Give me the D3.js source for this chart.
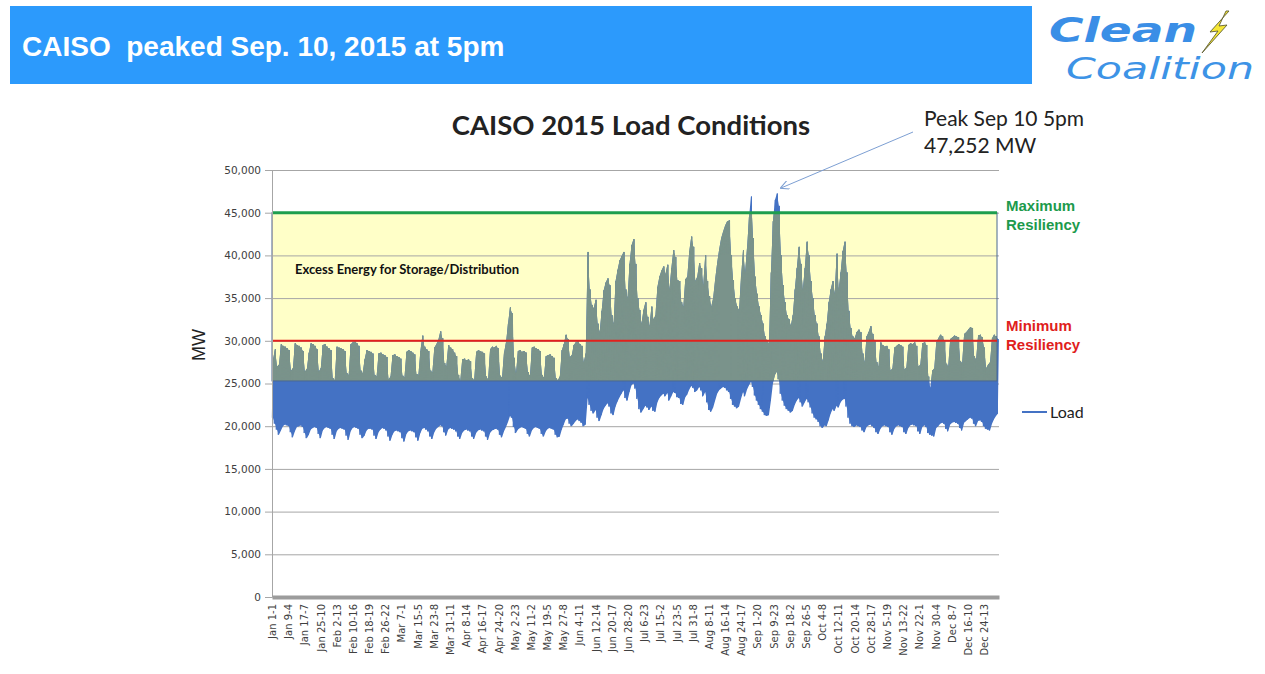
<!DOCTYPE html>
<html>
<head>
<meta charset="utf-8">
<script src="https://cdn.jsdelivr.net/npm/d3@7"></script>
<style>
  body { margin: 0; background: #fff; }
  svg { display: block; }
</style>
</head>
<body>
<script>
const [svgWidth, svgHeight] = [1265, 674];

// daily peak load, MW (Jan 1 .. Dec 31, 2015)
const dailyMax = [
  // Jan
  27800, 29000, 27000, 27200, 29600, 29400, 29300, 29100, 28900, 26500, 26800, 29700, 29500, 29400, 29200, 28800,
  26400, 26700, 28600, 29700, 29600, 29400, 29000, 26400, 26800, 29500, 29600, 29300, 29100, 28900, 25600,
  // Feb
  25400, 29300, 29200, 29100, 29000, 28800, 26200, 26000, 29600, 29800, 30000, 29700, 29400, 26500,
  26200, 27800, 28900, 28800, 28700, 28500, 26000, 25800, 28500, 28600, 28400, 28300, 28100, 25500,
  // Mar
  25800, 28300, 28400, 28200, 28100, 27900, 25900, 25700, 28700, 28900, 28800, 28600, 28400, 26100, 26000, 28800,
  30600, 29300, 29000, 28800, 26500, 26300, 29200, 29600, 30100, 31100, 30300, 27400, 27000, 29500, 29200,
  // Apr
  29000, 28600, 28200, 26000, 25300, 27800, 27900, 27700, 27800, 27600, 25600, 25400, 28700, 28900, 28800,
  28700, 28500, 25800, 25500, 29000, 29300, 29200, 29400, 29100, 25900, 25700, 28600, 29800, 32000, 33900,
  // May
  33200, 28000, 26200, 28800, 28900, 28700, 28800, 28600, 26300, 25900, 29200, 29300, 29100, 29000, 28800, 26000,
  25700, 28200, 28300, 28400, 28200, 28000, 25600, 25400, 25800, 28900, 29600, 30700, 30200, 28100, 28300,
  // Jun
  29500, 29800, 30000, 29600, 29400, 27500, 28500, 40400, 36000, 34200, 33800, 34800, 32000, 31000, 33500,
  35900, 36800, 37300, 36500, 33000, 32000, 37000, 38300, 39400, 39900, 40400, 36000, 35000, 39000, 41200,
  // Jul
  41900, 39000, 35000, 33600, 32000, 33600, 34500, 32800, 31700, 34000, 32500, 33000, 36300, 37500, 38200, 38700,
  37800, 38900, 36000, 38500, 40600, 39800, 37100, 37000, 34500, 34000, 37200, 37500, 40500, 42200, 41000,
  // Aug
  37000, 37500, 39100, 38500, 36500, 40000, 37000, 35200, 34000, 35000, 37200, 39100, 40700, 42000, 42800, 43500,
  44000, 44100, 40000, 37100, 35000, 34000, 33600, 37500, 40600, 38000, 40800, 44500, 46900, 42000, 37500,
  // Sep
  35500, 34000, 33000, 32000, 30500, 30000, 29700, 38000, 44000, 46500, 47252, 45800, 40000, 36500, 34500,
  33000, 32500, 31800, 33000, 36000, 38500, 41000, 39000, 36000, 38500, 41600, 40000, 37000, 35000, 33000,
  // Oct
  32000, 30500, 28500, 27600, 30500, 32000, 34500, 36000, 37000, 35500, 40200, 36000, 38000, 40500, 41600, 38000,
  33500, 31500, 30500, 30300, 31000, 31300, 31000, 28500, 27500, 30500, 31000, 31700, 30800, 30000, 27500,
  // Nov
  27000, 29800, 29500, 29300, 29400, 29000, 26500, 26800, 29200, 29400, 29600, 29500, 29300, 26600, 26900,
  29500, 29700, 29600, 29800, 29400, 27000, 27200, 29700, 29800, 29500, 25800, 24500, 26500, 26800, 29800,
  // Dec
  30300, 30700, 30500, 30000, 27300, 27000, 30200, 30400, 30600, 30500, 30400, 27600, 27400, 30800, 31000, 31300,
  31600, 31500, 28200, 27800, 30600, 30700, 30400, 29200, 26800, 27200, 27500, 30300, 30700, 30500, 30200
];

// daily minimum load, MW
const dailyMin = [
  // Jan
  21000, 20300, 19600, 19000, 19500, 20000, 20200, 20100, 20000, 19300, 18700, 19400, 19900, 20000, 20100, 19900,
  19200, 18600, 19000, 19600, 19800, 19900, 19800, 19100, 18600, 19500, 19800, 19900, 19800, 19700, 19000,
  // Feb
  18500, 19400, 19700, 19800, 19700, 19600, 18900, 18400, 19400, 19800, 19900, 19800, 19700, 19000,
  18600, 18900, 19500, 19700, 19700, 19600, 18900, 18500, 19300, 19600, 19800, 19700, 19500, 18800,
  // Mar
  18300, 19000, 19400, 19500, 19400, 19300, 18600, 18200, 19100, 19400, 19500, 19400, 19300, 18700, 18300, 19200,
  19700, 19800, 19600, 19400, 18800, 18500, 19300, 19700, 19900, 20100, 20000, 19300, 18900, 19600, 19800,
  // Apr
  19700, 19600, 19400, 18800, 18500, 19200, 19500, 19600, 19500, 19400, 18800, 18500, 19200, 19500, 19600,
  19500, 19400, 18800, 18400, 19200, 19500, 19600, 19700, 19600, 19000, 18700, 19400, 19900, 20500, 21200,
  // May
  21000, 19900, 19200, 19600, 19800, 19900, 19800, 19700, 19100, 18800, 19500, 19800, 19900, 19800, 19700, 19100,
  18800, 19400, 19700, 19800, 19700, 19600, 19000, 18700, 18800, 19600, 20200, 20800, 20900, 20300, 20000,
  // Jun
  20300, 20600, 20800, 20600, 20400, 20000, 20200, 23300, 22500, 21800, 21500, 21900, 21000, 20600, 21300,
  22000, 22400, 22700, 22300, 21500, 21300, 22300, 22900, 23400, 23800, 24200, 23300, 23000, 24000, 24800,
  // Jul
  25000, 24400, 23200, 22000, 21600, 22000, 22400, 22200, 21900, 22300, 21800, 21700, 22800, 23300, 23600, 23800,
  23500, 23900, 23000, 23500, 24000, 23900, 23400, 23300, 22600, 22500, 23400, 23700, 24300, 24700, 24500,
  // Aug
  24000, 24200, 24600, 24200, 23500, 24000, 22800, 21900, 21700, 22200, 23000, 23800, 24200, 24400, 24600, 24500,
  24200, 24000, 23200, 22500, 22300, 22100, 22300, 23200, 24000, 23500, 24300, 24800, 25200, 24600, 23600,
  // Sep
  23000, 22500, 22000, 21700, 21300, 21200, 21300, 23000, 25000, 26000, 26400, 25500, 23800, 23000, 22400,
  22000, 21800, 21600, 21800, 22500, 23000, 23300, 22800, 22300, 22800, 23200, 22800, 22200, 21500, 21000,
  // Oct
  20800, 20500, 20000, 19800, 20100, 20000, 20700, 21500, 22000, 21800, 22400, 22200, 22800, 23100, 23200, 22300,
  21000, 20300, 20000, 19900, 20100, 20000, 19900, 19500, 19300, 19900, 20100, 20200, 20000, 19800, 19300,
  // Nov
  19100, 19700, 20000, 20100, 20000, 19900, 19300, 19000, 19700, 20000, 20100, 20000, 19900, 19300, 19100,
  19800, 20100, 20200, 20100, 20000, 19400, 19100, 19900, 20100, 19900, 19200, 19000, 18900, 18800, 19800,
  // Dec
  20000, 20300, 20400, 20300, 19700, 19400, 20200, 20400, 20500, 20400, 20300, 19800, 19500, 20400, 20600, 20800,
  21000, 20900, 20300, 20000, 20600, 20700, 20500, 20000, 19700, 19600, 19500, 20300, 20800, 21200, 21500
];

// category labels shown on the x axis (one every 195 hourly points)
const xLabels = [
  "Jan 1-1", "Jan 9-4", "Jan 17-7", "Jan 25-10", "Feb 2-13", "Feb 10-16", "Feb 18-19", "Feb 26-22",
  "Mar 7-1", "Mar 15-5", "Mar 23-8", "Mar 31-11", "Apr 8-14", "Apr 16-17", "Apr 24-20", "May 2-23",
  "May 11-2", "May 19-5", "May 27-8", "Jun 4-11", "Jun 12-14", "Jun 20-17", "Jun 28-20", "Jul 6-23",
  "Jul 15-2", "Jul 23-5", "Jul 31-8", "Aug 8-11", "Aug 16-14", "Aug 24-17", "Sep 1-20", "Sep 9-23",
  "Sep 18-2", "Sep 26-5", "Oct 4-8", "Oct 12-11", "Oct 20-14", "Oct 28-17", "Nov 5-19", "Nov 13-22",
  "Nov 22-1", "Nov 30-4", "Dec 8-7", "Dec 16-10", "Dec 24-13"
];
const labelStep = 195;
const hoursInYear = 8760;

const yTicks = [0, 5000, 10000, 15000, 20000, 25000, 30000, 35000, 40000, 45000, 50000];
const maxResiliency = 45000;
const minResiliency = 30000;
const excessFloor = 25300;

const svg = d3.select("body").append("svg")
  .attr("width", svgWidth)
  .attr("height", svgHeight);

// ---- header band + logo
svg.append("rect")
  .attr("x", 10).attr("y", 6).attr("width", 1022).attr("height", 78)
  .attr("fill", "#2c9afc");
svg.append("text")
  .attr("x", 22).attr("y", 56)
  .attr("font-family", "'Liberation Sans', Arial, sans-serif")
  .attr("font-weight", "bold").attr("font-size", 28).attr("fill", "#fff")
  .attr("xml:space", "preserve")
  .text("CAISO  peaked Sep. 10, 2015 at 5pm");

svg.append("text")
  .attr("x", 1049).attr("y", 42)
  .attr("font-family", "'DejaVu Sans', Verdana, sans-serif")
  .attr("font-weight", "bold").attr("font-style", "italic").attr("font-size", 33)
  .attr("textLength", 148).attr("lengthAdjust", "spacingAndGlyphs")
  .attr("fill", "#3a8ee6")
  .text("Clean");
// lightning bolt
svg.append("path")
  .attr("d", "M1229,11 L1210,32 L1218,31 L1202,53 L1227,25 L1219,26 L1226,11 Z")
  .attr("fill", "#f6e735").attr("stroke", "#5f5e34").attr("stroke-width", 0.9)
  .attr("stroke-linejoin", "round");
svg.append("text")
  .attr("x", 1066).attr("y", 79)
  .attr("font-family", "'DejaVu Sans', Verdana, sans-serif")
  .attr("font-style", "italic").attr("font-size", 31)
  .attr("textLength", 188).attr("lengthAdjust", "spacingAndGlyphs")
  .attr("fill", "#3d93e6")
  .text("Coalition");

// ---- scales
const x = d3.scaleLinear().domain([0, hoursInYear]).range([272, 999]);
const y = d3.scaleLinear().domain([0, 50000]).range([597, 170]);

const box = {
  x: 272, y: y(maxResiliency),
  w: 997 - 272, h: y(excessFloor) - y(maxResiliency)
};

// pale yellow excess-energy area sits behind the data
svg.append("rect")
  .attr("x", box.x).attr("y", box.y).attr("width", box.w).attr("height", box.h)
  .attr("fill", "#ffffc8");

// grid
svg.append("g")
  .selectAll("line")
  .data(yTicks.filter(d => d > 0))
  .enter()
  .append("line")
    .attr("x1", 272).attr("x2", 999)
    .attr("y1", d => y(d) + 0.5).attr("y2", d => y(d) + 0.5)
    .attr("stroke", "#a6a6a6").attr("stroke-width", 1);

// load band: each day spans its min (early morning) to its peak (late afternoon)
const days = dailyMax.map((mx, i) => ({ day: i, max: mx, min: dailyMin[i] }));
const band = d3.area()
  .x(d => x(d.day * 24 + 12))
  .y0(d => y(d.min))
  .y1(d => y(d.max));
const zig = [];
days.forEach(d => {
  zig.push({ h: d.day * 24 + 4, v: d.min });
  zig.push({ h: d.day * 24 + 17, v: d.max });
});
const zigLine = d3.line().x(d => x(d.h)).y(d => y(d.v));

svg.append("defs").append("clipPath")
  .attr("id", "boxClip")
  .append("rect")
    .attr("x", box.x).attr("y", box.y).attr("width", box.w).attr("height", box.h);

// draw the load twice: blue everywhere, grey-green where it falls inside the box
[["#4472c4", null], ["#7a938b", "url(#boxClip)"]].forEach(([color, clip]) => {
  const g = svg.append("g").attr("clip-path", clip);
  g.append("path")
    .datum(days)
    .attr("d", band)
    .attr("fill", color);
  g.append("path")
    .datum(zig)
    .attr("d", zigLine)
    .attr("fill", "none")
    .attr("stroke", color)
    .attr("stroke-width", 1);
});

svg.append("rect")
  .attr("x", box.x).attr("y", box.y).attr("width", box.w).attr("height", box.h)
  .attr("fill", "none")
  .attr("stroke", "#4a6890").attr("stroke-width", 1);

svg.append("line")
  .attr("x1", 272).attr("x2", 997)
  .attr("y1", y(maxResiliency)).attr("y2", y(maxResiliency))
  .attr("stroke", "#1e9e4e").attr("stroke-width", 3);
svg.append("line")
  .attr("x1", 272).attr("x2", 997)
  .attr("y1", y(minResiliency)).attr("y2", y(minResiliency))
  .attr("stroke", "#e3211c").attr("stroke-width", 2);

// axes
const yAxis = svg.append("g")
  .attr("transform", "translate(272,0)")
  .call(d3.axisLeft(y).tickValues(yTicks).tickFormat(d3.format(",")).tickSize(7).tickPadding(4));
yAxis.select(".domain").attr("stroke", "#a6a6a6");
yAxis.selectAll(".tick line").attr("stroke", "#a6a6a6");
yAxis.selectAll("text")
  .attr("font-family", "'DejaVu Sans', Verdana, sans-serif")
  .attr("font-size", 10.5).attr("fill", "#404040");

const xAxis = svg.append("g")
  .attr("transform", "translate(0,597)")
  .call(d3.axisBottom(x)
    .tickValues(xLabels.map((_, i) => i * labelStep))
    .tickFormat((d, i) => xLabels[i])
    .tickSize(0).tickSizeOuter(0));
xAxis.select(".domain").attr("stroke", "#9c9c9c").attr("stroke-width", 4);
xAxis.selectAll("text")
  .attr("transform", "rotate(-90)")
  .attr("text-anchor", "end")
  .attr("x", -7).attr("y", 0).attr("dy", "0.35em")
  .attr("font-family", "'DejaVu Sans', Verdana, sans-serif")
  .attr("font-size", 10).attr("fill", "#404040");

svg.append("text")
  .attr("transform", "translate(205,345) rotate(-90)")
  .attr("text-anchor", "middle")
  .attr("font-family", "'Liberation Sans', Arial, sans-serif")
  .attr("font-size", 18).attr("fill", "#222")
  .text("MW");

// title + annotations
svg.append("text")
  .attr("x", 631).attr("y", 135)
  .attr("text-anchor", "middle")
  .attr("font-family", "Lato, 'Open Sans', sans-serif")
  .attr("font-weight", "bold").attr("font-size", 27.5).attr("fill", "#222")
  .text("CAISO 2015 Load Conditions");

svg.append("text")
  .attr("x", 295).attr("y", 274)
  .attr("font-family", "Lato, 'Open Sans', sans-serif")
  .attr("font-weight", "bold").attr("font-size", 13).attr("fill", "#111")
  .text("Excess Energy for Storage/Distribution");

svg.append("text")
  .attr("x", 924).attr("y", 126)
  .attr("font-family", "Lato, 'Open Sans', sans-serif")
  .attr("font-size", 21).attr("fill", "#222")
  .text("Peak Sep 10 5pm");
svg.append("text")
  .attr("x", 924).attr("y", 153)
  .attr("font-family", "Lato, 'Open Sans', sans-serif")
  .attr("font-size", 21).attr("fill", "#222")
  .text("47,252 MW");

svg.select("defs").append("marker")
  .attr("id", "arrow").attr("viewBox", "0 0 10 10")
  .attr("refX", 9).attr("refY", 5)
  .attr("markerWidth", 9).attr("markerHeight", 9)
  .attr("orient", "auto")
  .append("path")
    .attr("d", "M0,0 L10,5 L0,10")
    .attr("fill", "none").attr("stroke", "#7d9fd3").attr("stroke-width", 1.2);
svg.append("line")
  .attr("x1", 913).attr("y1", 132).attr("x2", 781).attr("y2", 188)
  .attr("stroke", "#7d9fd3").attr("stroke-width", 1)
  .attr("marker-end", "url(#arrow)");

const sideLabels = [
  { lines: ["Maximum", "Resiliency"], y: 211, color: "#1c9a4c" },
  { lines: ["Minimum", "Resiliency"], y: 331, color: "#e0201c" }
];
sideLabels.forEach(s => {
  svg.append("text")
    .attr("x", 1006).attr("y", s.y)
    .attr("font-family", "'Liberation Sans', Arial, sans-serif")
    .attr("font-weight", "bold").attr("font-size", 15).attr("fill", s.color)
    .selectAll("tspan")
    .data(s.lines)
    .enter()
    .append("tspan")
      .attr("x", 1006)
      .attr("dy", (d, i) => i === 0 ? 0 : 19)
      .text(d => d);
});

// legend
svg.append("line")
  .attr("x1", 1022).attr("x2", 1047).attr("y1", 412).attr("y2", 412)
  .attr("stroke", "#4472c4").attr("stroke-width", 2);
svg.append("text")
  .attr("x", 1050).attr("y", 418)
  .attr("font-family", "Lato, 'Open Sans', sans-serif")
  .attr("font-size", 16).attr("fill", "#222")
  .text("Load");
</script>
</body>
</html>
